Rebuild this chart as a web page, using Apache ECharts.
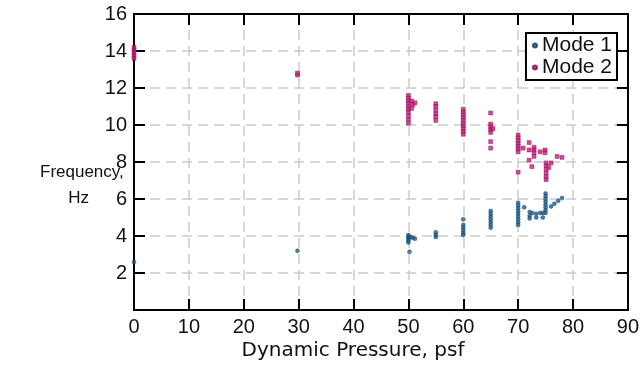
<!DOCTYPE html>
<html>
<head>
<meta charset="utf-8">
<script src="https://cdn.jsdelivr.net/npm/echarts@6/dist/echarts.min.js"></script>
<style>
  html, body { margin: 0; padding: 0; background: #fff; }
  #chart { width: 642px; height: 368px; }
</style>
</head>
<body>
<div id="chart"></div>
<script>
var chart = echarts.init(document.getElementById('chart'));

// tick values
var xTicks = [0, 10, 20, 30, 40, 50, 60, 70, 80, 90];
var yTicks = [0, 2, 4, 6, 8, 10, 12, 14, 16];

// Mode 1 [pressure, frequency]
var mode1Points = [
    [0, 2.6], [29.8, 3.2],
    [50, 4.05], [50, 3.95], [50, 3.85], [50, 3.75], [50, 3.65], [50.4, 3.95], [50.8, 3.9], [51.2, 3.85], [50.2, 3.15],
    [55, 4.2], [55, 4.05], [55, 3.95],
    [60, 4.9], [60, 4.6], [60, 4.45], [60, 4.3], [60, 4.15], [60, 4.05],
    [65, 5.35], [65, 5.2], [65, 5.05], [65, 4.9], [65, 4.75], [65, 4.6], [65, 4.45],
    [70, 5.8], [70, 5.65], [70, 5.5], [70, 5.35], [70, 5.2], [70, 5.05], [70, 4.9], [70, 4.75], [70, 4.6],
    [71.1, 5.55], [72.1, 5.3], [72.1, 5.1], [72.1, 4.95], [72.6, 5.25], [73.3, 5.2], [73.3, 5.0],
    [74, 5.25], [74.5, 5.25], [74.5, 5.0],
    [75, 6.3], [75, 6.15], [75, 6.0], [75, 5.85], [75, 5.7], [75, 5.55], [75, 5.4], [75, 5.25],
    [76, 5.6], [76.6, 5.75], [77.3, 5.9], [78, 6.05]
];

// Mode 2 [pressure, frequency]
var mode2Points = [
    [0, 14.2], [0, 14.05], [0, 13.9], [0, 13.75], [0, 13.6],
    [29.8, 12.8], [29.8, 12.7],
    [50, 11.6], [50, 11.45], [50, 11.3], [50, 11.15], [50, 11.0], [50, 10.85], [50, 10.7], [50, 10.5], [50, 10.3], [50, 10.1],
    [50.6, 11.3], [50.8, 11.1], [51.2, 11.2], [50.6, 10.9],
    [55, 11.15], [55, 11.0], [55, 10.8], [55, 10.6], [55, 10.45], [55, 10.25],
    [60, 10.85], [60, 10.7], [60, 10.55], [60, 10.4], [60, 10.25], [60, 10.1], [60, 9.95], [60, 9.8], [60, 9.65], [60, 9.5],
    [65, 10.65], [65, 10.05], [65, 9.9], [65, 9.75], [65, 9.6], [65.4, 9.8], [65, 9.1], [65, 8.75],
    [70, 9.45], [70, 9.3], [70, 9.15], [70, 9.0], [70, 8.85], [70, 8.7], [70, 8.55], [70, 7.45],
    [70.9, 8.75], [72, 9.05], [72, 8.65], [72, 8.1], [72.5, 7.75],
    [72.9, 8.8], [72.9, 8.65], [72.9, 8.5], [72.9, 8.3], [74, 8.55], [74.9, 8.65], [74.9, 8.5],
    [75.1, 7.95], [75.1, 7.8], [75.1, 7.6], [75.1, 7.4], [75.1, 7.2], [75.1, 7.05], [75.6, 7.7],
    [76, 7.95], [77.1, 8.3], [78, 8.25]
];

var font = 'Liberation Sans, Arial, sans-serif';
var gridLine = { show: true, lineStyle: { color: '#cbcbcb', width: 1.5, type: [10, 6] } };
var frameLine = { show: true, onZero: false, lineStyle: { color: '#000', width: 2 } };
var frameTick = { show: true, inside: true, length: 11, lineStyle: { color: '#000', width: 2 } };

chart.setOption({
    animation: false,
    textStyle: { fontFamily: font },
    grid: { left: 134, right: 13, top: 14, bottom: 58, containLabel: false },
    legend: {
        orient: 'vertical',
        right: 25,
        top: 33,
        padding: [2, 5, 2, 6],
        itemGap: 1,
        itemWidth: 4,
        itemHeight: 4,
        icon: 'circle',
        borderColor: '#000',
        borderWidth: 2,
        backgroundColor: '#fff',
        textStyle: { fontSize: 21, color: '#111', fontFamily: font, padding: [0, 0, 0, 0] },
        data: ['Mode 1', 'Mode 2']
    },
    xAxis: [{
        type: 'value',
        min: xTicks[0],
        max: xTicks[xTicks.length - 1],
        interval: 10,
        axisLine: frameLine,
        axisTick: frameTick,
        axisLabel: { fontSize: 20, color: '#111', margin: 7 },
        splitLine: gridLine
    }, {
        type: 'value',
        position: 'top',
        min: xTicks[0],
        max: xTicks[xTicks.length - 1],
        interval: 10,
        axisLine: frameLine,
        axisTick: frameTick,
        axisLabel: { show: false },
        splitLine: { show: false }
    }],
    yAxis: [{
        type: 'value',
        min: yTicks[0],
        max: yTicks[yTicks.length - 1],
        interval: 2,
        axisLine: frameLine,
        axisTick: frameTick,
        axisLabel: { fontSize: 20, color: '#111', margin: 7, showMinLabel: false },
        splitLine: gridLine
    }, {
        type: 'value',
        position: 'right',
        min: yTicks[0],
        max: yTicks[yTicks.length - 1],
        interval: 2,
        axisLine: frameLine,
        axisTick: frameTick,
        axisLabel: { show: false },
        splitLine: { show: false }
    }],
    graphic: [{
        type: 'text',
        x: 353,
        y: 341,
        style: { text: 'Dynamic Pressure, psf', font: '20px DejaVu Sans, sans-serif', fill: '#111', align: 'center' }
    }, {
        type: 'text',
        left: 40,
        top: 159,
        style: { text: 'Frequency,\n      Hz', font: '17px ' + font, fill: '#111', lineHeight: 26 }
    }],
    series: [{
        name: 'Mode 1',
        type: 'scatter',
        symbol: 'circle',
        symbolSize: 4,
        itemStyle: { color: '#1d5f8f', borderColor: '#0d3a5c', borderWidth: 0.5 },
        data: mode1Points
    }, {
        name: 'Mode 2',
        type: 'scatter',
        symbol: 'rect',
        symbolSize: 4,
        itemStyle: { color: '#d0197c', borderColor: '#7a0c48', borderWidth: 0.5 },
        data: mode2Points
    }]
});
</script>
</body>
</html>
